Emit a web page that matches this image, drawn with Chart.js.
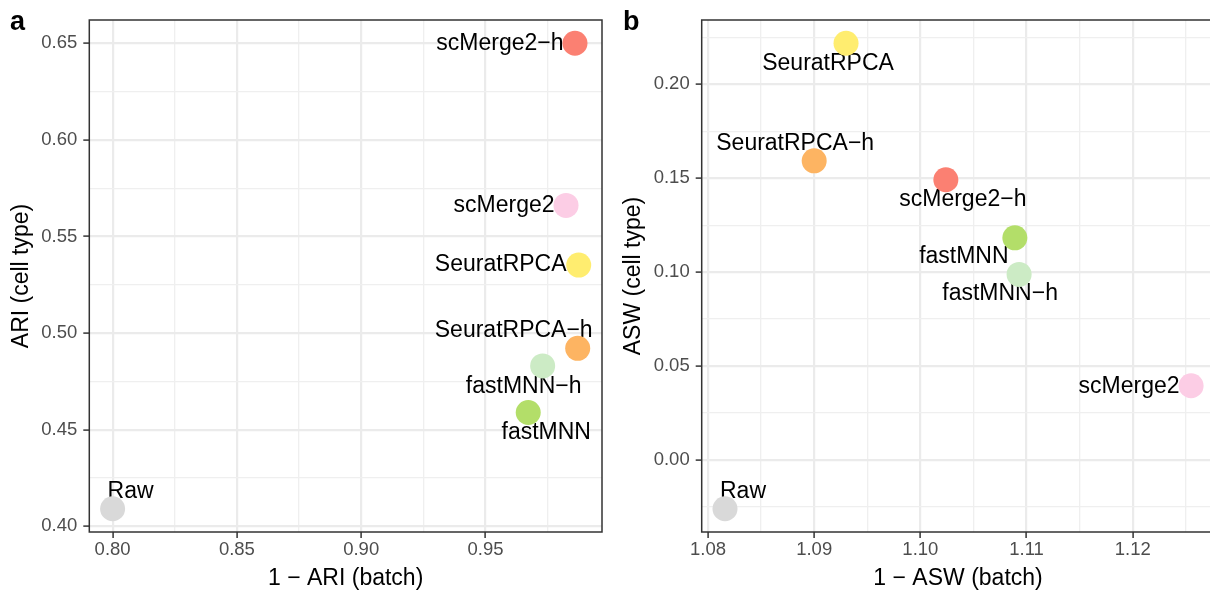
<!DOCTYPE html>
<html>
<head>
<meta charset="utf-8">
<script src="https://cdn.jsdelivr.net/npm/chart.js@4.4.1/dist/chart.umd.min.js"></script>
<style>
  html, body { margin: 0; padding: 0; background: #fff; overflow: hidden; }
  body { width: 1210px; height: 590px; position: relative; }
  canvas { position: absolute; top: 0; }
  #chartA { left: 0; }
  #chartB { left: 605px; }
</style>
</head>
<body>
<canvas id="chartA" width="605" height="590"></canvas>
<canvas id="chartB" width="615" height="590"></canvas>
<script>
// methods and their scores
const methods = ['scMerge2−h', 'scMerge2', 'SeuratRPCA', 'SeuratRPCA−h', 'fastMNN−h', 'fastMNN', 'Raw'];
const ariBatch = [0.986, 0.9824, 0.9875, 0.9871, 0.973, 0.9672, 0.800];
const ariCell = [0.650, 0.5661, 0.5352, 0.4921, 0.483, 0.4589, 0.4091];
const aswBatch = [1.1024, 1.1255, 1.0930, 1.0900, 1.1093, 1.1089, 1.0816];
const aswCell = [0.1492, 0.0395, 0.2219, 0.1593, 0.0988, 0.1183, -0.026];
const methodColors = ['#FB8072', '#FCCDE5', '#FFED6F', '#FDB462', '#CCEBC5', '#B3DE69', '#D9D9D9'];

// major tick labels
const ariBatchTicks = [0.80, 0.85, 0.90, 0.95];
const ariCellTicks = [0.40, 0.45, 0.50, 0.55, 0.60, 0.65];
const aswBatchTicks = [1.08, 1.09, 1.10, 1.11, 1.12];
const aswCellTicks = [0.00, 0.05, 0.10, 0.15, 0.20];

// label nudges in px (text centre relative to point), like ggrepel placed them
const nudgeA = [[-75, 0], [-62, 0], [-78, 0], [-64, -18], [-19, 21], [18, 20], [18, -17]];
const nudgeB = [[17, 20], [-62, 1], [-18, 20], [-19, -17], [-19, 19], [-51, 19], [18, -17]];

const FONT = '"Liberation Sans", Arial, Helvetica, sans-serif';

// ggplot default: 5% expansion of the data range
function expand(arr) {
  const lo = Math.min(...arr), hi = Math.max(...arr);
  const pad = (hi - lo) * 0.05;
  return [lo - pad, hi + pad];
}

function minorBreaks(major, lim) {
  const half = (major[1] - major[0]) / 2;
  const out = [major[0] - half];
  major.forEach(v => out.push(v + half));
  return out.filter(v => v > lim[0] && v < lim[1]);
}

function makeAxis(major, lim, title, horizontal, fixedSize, titlePad) {
  const minor = minorBreaks(major, lim);
  return {
    type: 'linear',
    position: horizontal ? 'bottom' : 'left',
    min: lim[0],
    max: lim[1],
    afterBuildTicks: (scale) => {
      const t = major.map(v => ({ value: v, isMajor: true }))
        .concat(minor.map(v => ({ value: v, isMajor: false })));
      t.sort((a, b) => a.value - b.value);
      scale.ticks = t;
    },
    afterFit: (scale) => {
      if (horizontal) scale.height = fixedSize;
      else scale.width = fixedSize;
      scale.paddingLeft = 0;
      scale.paddingRight = 0;
      scale.paddingTop = 0;
      scale.paddingBottom = 0;
    },
    ticks: {
      autoSkip: false,
      maxRotation: 0,
      includeBounds: false,
      color: '#4D4D4D',
      font: { family: FONT, size: 18.5 },
      padding: horizontal ? 1 : 6,
      callback: (value, index, ticks) => ticks[index].isMajor ? value.toFixed(2) : ''
    },
    grid: {
      drawTicks: true,
      tickLength: 6,
      tickWidth: 1.5,
      tickColor: (ctx) => ctx.tick && ctx.tick.isMajor ? '#333333' : 'rgba(0,0,0,0)',
      color: (ctx) => ctx.tick && ctx.tick.isMajor ? '#EBEBEB' : '#EFEFEF',
      lineWidth: (ctx) => ctx.tick && ctx.tick.isMajor ? 2.2 : 1.3
    },
    border: { display: false },
    title: {
      display: true,
      text: title,
      color: '#000',
      font: { family: FONT, size: 23, lineHeight: 1 },
      padding: titlePad
    }
  };
}

const labelPlugin = {
  id: 'pointLabels',
  beforeDatasetsDraw(chart, args, opts) {
    const ctx = chart.ctx;
    const meta = chart.getDatasetMeta(0);
    ctx.save();
    ctx.font = '23px ' + FONT;
    ctx.fillStyle = '#000';
    ctx.textAlign = 'center';
    ctx.textBaseline = 'middle';
    meta.data.forEach((pt, i) => {
      const n = opts.nudge[i];
      ctx.fillText(methods[i], pt.x + n[0], pt.y + n[1]);
    });
    ctx.restore();
  },
  afterDatasetsDraw(chart, args, opts) {
    const ctx = chart.ctx;
    const a = chart.chartArea;
    ctx.save();
    ctx.strokeStyle = '#333333';
    ctx.lineWidth = 1.5;
    ctx.strokeRect(a.left, a.top, a.right - a.left, a.bottom - a.top);
    ctx.fillStyle = '#000';
    ctx.font = 'bold 27px ' + FONT;
    ctx.textAlign = 'left';
    ctx.textBaseline = 'alphabetic';
    ctx.fillText(opts.letter, opts.letterX, 30);
    ctx.restore();
  }
};

function makeChart(id, xs, ys, xTicks, yTicks, xTitle, yTitle, nudge, letter, letterX, yWidth, yTitlePad, rightPad) {
  const points = xs.map((x, i) => ({ x: x, y: ys[i] }));
  return new Chart(document.getElementById(id), {
    type: 'scatter',
    data: {
      datasets: [{
        data: points,
        pointRadius: 12.5,
        pointHoverRadius: 12.5,
        pointBorderWidth: 0,
        pointBackgroundColor: methodColors,
        pointBorderColor: methodColors
      }]
    },
    options: {
      responsive: false,
      animation: false,
      events: [],
      layout: { autoPadding: false, padding: { top: 20, right: rightPad, left: 0, bottom: 0 } },
      scales: {
        x: makeAxis(xTicks, expand(xs), xTitle, true, 58, { top: 0, bottom: 0 }),
        y: makeAxis(yTicks, expand(ys), yTitle, false, yWidth, { top: yTitlePad, bottom: 0 })
      },
      plugins: {
        legend: { display: false },
        tooltip: { enabled: false },
        pointLabels: { nudge: nudge, letter: letter, letterX: letterX }
      }
    },
    plugins: [labelPlugin]
  });
}

makeChart('chartA', ariBatch, ariCell, ariBatchTicks, ariCellTicks,
  '1 − ARI (batch)', 'ARI (cell type)', nudgeA, 'a', 10, 89.3, 10.5, 3);
makeChart('chartB', aswBatch, aswCell, aswBatchTicks, aswCellTicks,
  '1 − ASW (batch)', 'ASW (cell type)', nudgeB, 'b', 18, 96.7, 16.8, 5.6);
</script>
</body>
</html>
